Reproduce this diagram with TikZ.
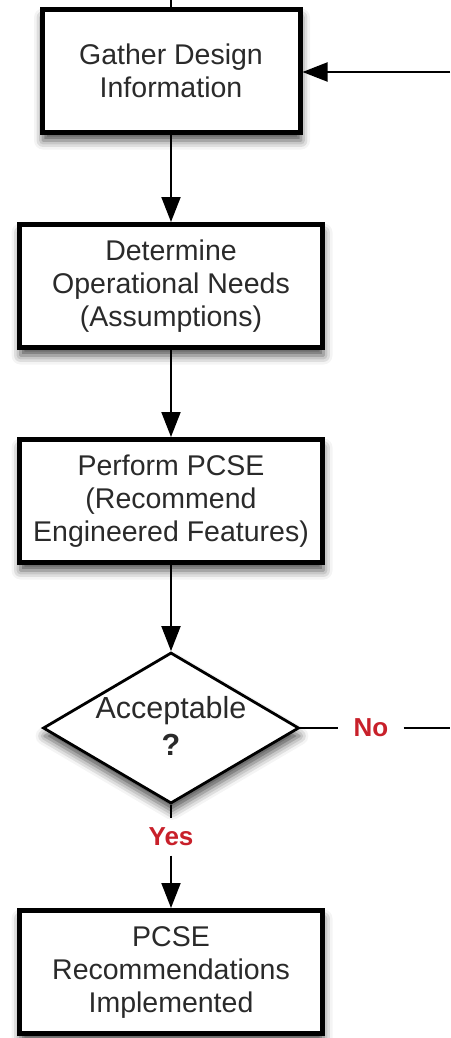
\documentclass[tikz,border=0pt]{standalone}
\usepackage{fontspec}
\setmainfont{Liberation Sans}
\usetikzlibrary{arrows.meta,shapes.geometric,shadows.blur}
\definecolor{txt}{HTML}{2A2A2A}
\definecolor{lab}{HTML}{C8202A}
\tikzset{
  proc/.style={draw=black, line width=5pt, fill=white, rectangle,
    minimum width=303pt, minimum height=123pt, inner sep=0pt,
    align=center, text=txt, font=\fontsize{28.5}{33}\selectfont,
    blur shadow={shadow xshift=1pt, shadow yshift=-8pt, shadow blur radius=9pt, shadow opacity=70}},
  dec/.style={draw=black, line width=2.8pt, fill=white, diamond, aspect=1.7,
    minimum width=256pt, minimum height=151pt, inner sep=0pt,
    blur shadow={shadow xshift=1pt, shadow yshift=-8pt, shadow blur radius=9pt, shadow opacity=70}},
  dectext/.style={align=center, text=txt, font=\fontsize{30.5}{37}\selectfont, inner sep=0pt},
  lbl/.style={text=lab, font=\bfseries\fontsize{26}{30}\selectfont},
  conn/.style={draw=black, line width=2pt},
  arr/.style={conn, -{Triangle[length=25pt,width=19pt]}}
}
\begin{document}
\begin{tikzpicture}[x=1pt,y=-1pt]
\useasboundingbox (0,0) rectangle (450,1038);
\node[proc, minimum width=258pt] (g) at (171,71) {Gather Design\\Information};
\node[proc] (o) at (171,286) {Determine\\Operational Needs\\(Assumptions)};
\node[proc] (p) at (171,501) {Perform PCSE\\(Recommend\\Engineered Features)};
\node[dec] (d) at (171,728) {};
\node[dectext] (dt) at (171,726) {Acceptable\\\textbf{?}};
\node[proc] (r) at (171,972) {PCSE\\Recommendations\\Implemented};
\node[lbl, inner xsep=15pt, inner ysep=0pt] (no) at (371,728) {No};
\node[lbl, inner sep=0pt, minimum height=37pt] (yes) at (171,837) {Yes};
\coordinate (top) at (171,0);
\coordinate (rin) at (450,72);
\coordinate (rout) at (450,728);
\draw[conn] (top) -- (g.north);
\draw[arr] (rin) -- (rin -| g.east);
\draw[arr] (g.south) -- (o.north);
\draw[arr] (o.south) -- (p.north);
\draw[arr] (p.south) -- (d.north);
\draw[conn] (d.east) -- (no);
\draw[conn] (no) -- (rout);
\draw[conn] (d.south) -- (yes);
\draw[arr] (yes) -- (r.north);
\end{tikzpicture}
\end{document}
